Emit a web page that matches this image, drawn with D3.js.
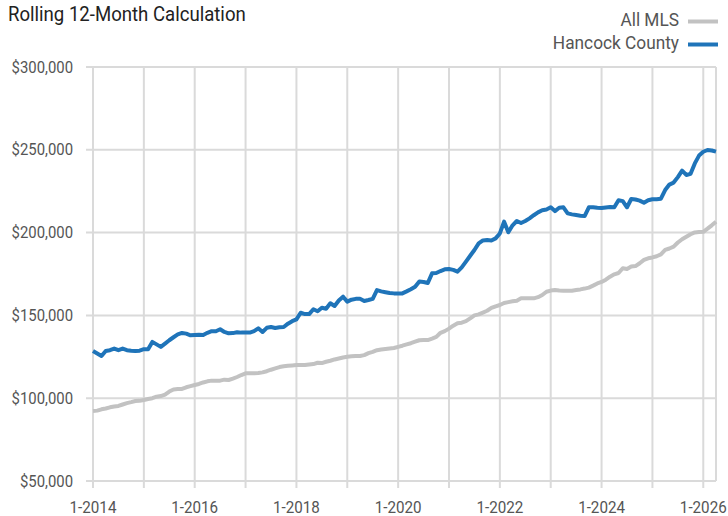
<!DOCTYPE html>
<html lang="en">
<head>
    <meta charset="UTF-8">
    <title>Rolling 12-Month Calculation</title>
    <script src="https://d3js.org/d3.v7.min.js"></script>
    <style>
        body { margin: 0; background: #fff; }
        text { font-family: "Liberation Sans Narrow", "Roboto", sans-serif; fill: #555; }
    </style>
</head>
<body>
    <div id="chart"></div>

    <script>
        var width = 728;
        var height = 516;

        // first month of data, monthly values in thousands of dollars
        const startYear = 2014;
        const hancock = [
            128.5, 127, 125.5, 128.5, 129, 130, 129, 130, 129, 128.7, 128.5, 128.7,
            129.6, 129.5, 134, 132.5, 131, 133, 135, 136.8, 138.5, 139.4, 139, 138,
            138.2, 138.3, 138.2, 139.5, 140.5, 140.4, 141.6, 140, 139.2, 139.3, 139.8, 139.6,
            139.7, 139.6, 140.5, 142.2, 140, 142.5, 143, 142.4, 142.8, 143, 145, 146.5,
            147.6, 151.6, 150.8, 150.8, 153.7, 152.5, 154.6, 154, 157.3, 155.7, 159, 161.3,
            158.3, 159.5, 160, 160, 158.7, 159.3, 160, 165.3, 164.5, 164, 163.5, 163.3,
            163.3, 163.3, 164.5, 165.8, 167.3, 170.5, 170.2, 169.6, 175.4, 175.6, 176.8, 177.8,
            178, 177.5, 176.4, 179, 182.5, 186, 189.5, 193.5, 195.3, 195.5, 195.2, 196.5,
            199.5, 206.6, 200.2, 204.4, 207, 205.8, 207, 208.6, 210.5, 212.2, 213.5, 214,
            215.3, 213, 215, 215.3, 211.6, 211, 210.6, 210.2, 210, 215.3, 215.3, 215,
            214.8, 215.2, 215.5, 215.3, 219.5, 219, 215.3, 220.3, 220, 219.3, 218, 219.5,
            220.1, 220.2, 220.5, 225.7, 229, 230.2, 233.5, 237.4, 234.8, 235.5, 241.8, 246.5,
            248.8, 249.9, 249.6, 248.9
        ];
        const allMls = [
            92.3, 92.5, 93.3, 93.8, 94.5, 95, 95.3, 96.2, 97, 97.6, 98.3, 98.4,
            98.9, 99.5, 100, 100.9, 101.3, 102.2, 104, 105.3, 105.5, 105.6, 106.6, 107.3,
            108, 108.6, 109.5, 110.2, 110.6, 110.6, 110.6, 111.2, 111, 111.8, 112.8, 114,
            115, 115, 115, 115.2, 115.6, 116.3, 117.2, 118, 118.8, 119.3, 119.6, 119.8,
            120, 120, 120, 120.3, 120.6, 121.4, 121.2, 122, 122.6, 123.4, 124, 124.6,
            125, 125.3, 125.5, 125.5, 126, 127.2, 128, 129, 129.4, 129.7, 130, 130.3,
            131, 131.7, 132.5, 133.2, 134.1, 135, 135.1, 135.1, 136, 137, 139.5, 140.5,
            142, 143.8, 145.2, 145.6, 146.5, 148.2, 150, 150.6, 151.7, 152.8, 154.5, 155.5,
            156.3, 157.5, 158, 158.5, 158.9, 160.3, 160.3, 160.3, 160.3, 161, 162.3, 164.3,
            165, 165.3, 165, 164.9, 164.9, 164.9, 165.3, 165.7, 166.2, 166.8, 168, 169.3,
            170.2, 171.6, 173.4, 174.8, 175.6, 178.5, 178, 179.5, 179.8, 181.5, 183.5, 184.5,
            185, 185.7, 186.8, 189.5, 190.4, 191.5, 194, 196, 197.5, 199, 200.1, 200.3,
            200.5, 202.4, 204.4, 206.6
        ];
        const yTicks = [50000, 100000, 150000, 200000, 250000, 300000];
        const legendNames = ["All MLS", "Hancock County"];
        const colors = ["#c2c2c2", "#1f74b9"];

        const svg = d3.select("#chart").append("svg")
            .attr("width", width)
            .attr("height", height);

        var x = d3.scaleLinear()
            .domain([0, hancock.length - 1])
            .range([93, 716]);
        var y = d3.scaleLinear()
            .domain([50000, 300000])
            .range([481, 67]);

        // narrow the text a bit, the original uses a condensed face
        function squeeze(sel, px, py, s) {
            return sel.attr("transform", (d, i) => "translate(" + px(d, i) + "," + py(d, i) + ") scale(" + s + ",1)");
        }

        // yearly gridlines, label every other year
        var yearIdx = d3.range(0, hancock.length, 12);

        svg.append("g")
            .attr("stroke", "#dadada")
            .attr("stroke-width", 2)
            .selectAll("line.h")
            .data(yTicks)
            .join("line")
            .attr("x1", 86)
            .attr("x2", 716)
            .attr("y1", d => y(d))
            .attr("y2", d => y(d));

        svg.append("g")
            .attr("stroke", "#dadada")
            .attr("stroke-width", 2)
            .selectAll("line.v")
            .data(yearIdx)
            .join("line")
            .attr("x1", d => x(d))
            .attr("x2", d => x(d))
            .attr("y1", y(300000))
            .attr("y2", y(50000) + 7);

        // right border
        svg.append("line")
            .attr("x1", x(hancock.length - 1))
            .attr("x2", x(hancock.length - 1))
            .attr("y1", y(300000))
            .attr("y2", y(50000))
            .attr("stroke", "#dadada")
            .attr("stroke-width", 2);

        svg.append("g")
            .selectAll("text")
            .data(yTicks)
            .join("text")
            .call(squeeze, d => 73, d => y(d), 0.93)
            .attr("dy", "0.35em")
            .attr("text-anchor", "end")
            .style("font-size", "16px")
            .text(d => "$" + d3.format(",")(d));

        svg.append("g")
            .selectAll("text")
            .data(yearIdx.filter((d, i) => i % 2 == 0))
            .join("text")
            .call(squeeze, d => x(d), d => 513, 0.95)
            .attr("text-anchor", "middle")
            .style("font-size", "16px")
            .text(d => "1-" + (startYear + d / 12));

        var line = d3.line()
            .x((d, i) => x(i))
            .y(d => y(d * 1000));

        [allMls, hancock].forEach(function(series, k) {
            svg.append("path")
                .datum(series)
                .attr("fill", "none")
                .attr("stroke", colors[k])
                .attr("stroke-width", 4)
                .attr("stroke-linejoin", "round")
                .attr("d", line);
        });

        // title
        svg.append("text")
            .attr("transform", "translate(8,21) scale(0.93,1)")
            .style("font-size", "20px")
            .style("fill", "#222")
            .text("Rolling 12-Month Calculation");

        // legend
        legendNames.forEach(function(name, k) {
            var ly = 20 + k * 23;
            svg.append("text")
                .attr("transform", "translate(679," + ly + ") scale(0.96,1)")
                .attr("dy", "0.35em")
                .attr("text-anchor", "end")
                .style("font-size", "18px")
                .text(name);
            svg.append("line")
                .attr("x1", 688)
                .attr("x2", 718)
                .attr("y1", ly + 1.5)
                .attr("y2", ly + 1.5)
                .attr("stroke", colors[k])
                .attr("stroke-width", 4);
        });
    </script>
</body>
</html>
